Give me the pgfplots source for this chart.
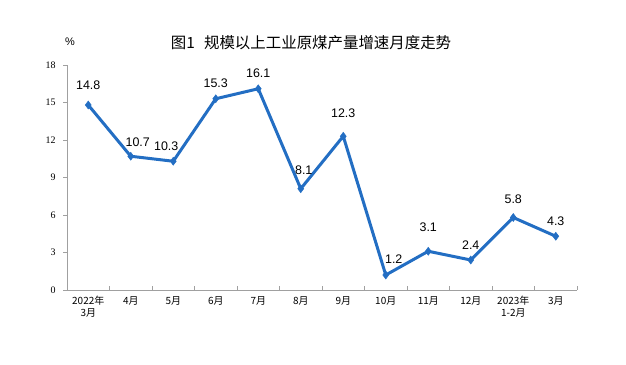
\documentclass[border=0pt]{standalone}
\usepackage{pgfplots}
\pgfplotsset{compat=1.18}
\usepackage{fontspec}
\setmainfont{Liberation Sans}
\newfontfamily\cjk{Noto Sans CJK SC}
\newfontfamily\serif{Liberation Serif}
\definecolor{lineblue}{RGB}{35,110,195}
\definecolor{axgray}{RGB}{160,160,160}
\begin{document}
\begin{tikzpicture}[x=1bp,y=1bp]
\useasboundingbox (0,0) rectangle (626,364);
\node[font=\cjk\fontsize{15.5}{17}\selectfont] at (311,321) {图1\hspace{0.6em}规模以上工业原煤产量增速月度走势};
\node[font=\fontsize{11}{13}\selectfont] at (70,322) {\%};
\begin{axis}[
  at={(67bp,74bp)}, anchor=south west,
  scale only axis, width=510bp, height=225bp,
  xmin=-0.5, xmax=11.5, ymin=0, ymax=18,
  axis lines=left, axis line style={axgray, -, line width=0.8pt},
  ytick={0,3,...,18},
  yticklabel style={font=\serif\fontsize{10}{11}\selectfont, xshift=-4pt},
  /pgf/number format/assume math mode=true,
  xtick={0,...,11},
  xticklabels={{2022年\\3月},4月,5月,6月,7月,8月,9月,10月,11月,12月,{2023年\\1-2月},3月},
  xticklabel style={font=\cjk\fontsize{10}{12}\selectfont, align=center, anchor=north, yshift=-3pt},
  major x tick style={draw=none},
  minor xtick={-0.5,0.5,...,11.5},
  minor x tick style={axgray},
  minor tick length=4pt,
  y tick style={axgray},
  major tick length=4pt,
  ytick align=outside,
  xtick align=inside,
  clip=false,
]
\addplot[lineblue, line width=3bp, mark=diamond*, mark size=4pt, mark options={fill=lineblue, line width=0.5pt},
  nodes near coords, point meta=explicit symbolic,
  visualization depends on={\thisrow{dx} \as \ldx},
  visualization depends on={\thisrow{dy} \as \ldy},
  every node near coord/.append style={font=\fontsize{12.5}{14}\selectfont, black, anchor=center, xshift=\ldx bp, yshift=\ldy bp}]
 table[x=x, y=y, meta=l] {
x y l dx dy
0 14.8 14.8 0 20
1 10.7 10.7 7 14
2 10.3 10.3 -7 15
3 15.3 15.3 0 16
4 16.1 16.1 0 16
5 8.1 8.1 3 19
6 12.3 12.3 0 23
7 1.2 1.2 8 16
8 3.1 3.1 0 24
9 2.4 2.4 0 15
10 5.8 5.8 0 18
11 4.3 4.3 0 15
};
\end{axis}
\end{tikzpicture}
\end{document}
